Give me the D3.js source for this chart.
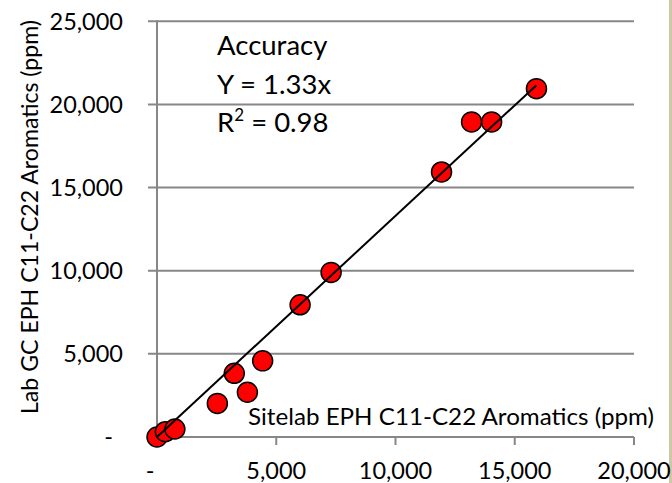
<!DOCTYPE html>
<html>
<head>
<meta charset="utf-8">
<script src="https://cdn.jsdelivr.net/npm/d3@7"></script>
<style>
  html, body { margin: 0; padding: 0; background: #ffffff; }
  svg { display: block; }
  text { font-family: Lato, "Open Sans", sans-serif; fill: #000; }
</style>
</head>
<body>
<svg id="chart" width="672" height="483"></svg>
<script>
// ---- data ----
const sitelabPpm = [0, 350, 750, 2530, 3240, 3790, 4430, 6000, 7300, 11930, 13190, 14030, 15910];
const labGcPpm   = [0, 320, 480, 2020, 3830, 2690, 4580, 7950, 9900, 15940, 18950, 18950, 20950];
const xTicks = [0, 5000, 10000, 15000, 20000];
const yTicks = [0, 5000, 10000, 15000, 20000, 25000];
const slope = 1.33;
const annotationLines = ["Accuracy", "Y = 1.33x"];
const r2Text = { base: "R", sup: "2", rest: " = 0.98" };
const xTitle = "Sitelab EPH C11-C22 Aromatics (ppm)";
const yTitle = "Lab GC EPH C11-C22 Aromatics (ppm)";

// ---- layout ----
const svg = d3.select("#chart");
const x = d3.scaleLinear().domain([0, 20000]).range([157, 634]);
const y = d3.scaleLinear().domain([0, 25000]).range([437, 21.3]);
const fmt = v => v === 0 ? "-" : d3.format(",")(v);
const gridColor = "#878787";

// right beige edge
svg.append("rect").attr("x", 669).attr("y", 0).attr("width", 3).attr("height", 483).attr("fill", "#cfc7a6");

// horizontal gridlines (with outward tick stubs)
svg.append("g").selectAll("line").data(yTicks.filter(d => d !== 0)).join("line")
  .attr("x1", 148).attr("x2", x(20000))
  .attr("y1", d => y(d)).attr("y2", d => y(d))
  .attr("stroke", gridColor).attr("stroke-width", 2);

// y axis line
svg.append("line").attr("x1", x(0)).attr("x2", x(0)).attr("y1", y(25000) - 1).attr("y2", y(0))
  .attr("stroke", gridColor).attr("stroke-width", 2);
// x axis line
svg.append("line").attr("x1", x(0)).attr("x2", x(20000)).attr("y1", y(0)).attr("y2", y(0))
  .attr("stroke", gridColor).attr("stroke-width", 2);
// x ticks
svg.append("g").selectAll("line").data(xTicks).join("line")
  .attr("x1", d => x(d)).attr("x2", d => x(d)).attr("y1", y(0)).attr("y2", y(0) + 8)
  .attr("stroke", gridColor).attr("stroke-width", 2);

// y tick labels
svg.append("g").selectAll("text").data(yTicks).join("text")
  .attr("x", d => d === 0 ? 113 : 123)
  .attr("y", d => y(d))
  .attr("dy", "0.35em")
  .attr("text-anchor", "end")
  .attr("font-size", 23.5)
  .text(fmt);

// x tick labels
svg.append("g").selectAll("text").data(xTicks).join("text")
  .attr("x", d => d === 0 ? 150 : x(d))
  .attr("y", 479)
  .attr("text-anchor", "middle")
  .attr("font-size", 23.5)
  .text(fmt);

// axis titles
svg.append("text")
  .attr("transform", `translate(38,${217}) rotate(-90)`)
  .attr("text-anchor", "middle")
  .attr("font-size", 24)
  .attr("textLength", 394)
  .attr("lengthAdjust", "spacingAndGlyphs")
  .text(yTitle);
svg.append("text")
  .attr("x", 248).attr("y", 425)
  .attr("font-size", 23)
  .attr("textLength", 406)
  .attr("lengthAdjust", "spacingAndGlyphs")
  .text(xTitle);

// points
svg.append("g").selectAll("circle").data(sitelabPpm.map((v, i) => [v, labGcPpm[i]])).join("circle")
  .attr("cx", d => x(d[0])).attr("cy", d => y(d[1])).attr("r", 10)
  .attr("fill", "#ff0000").attr("stroke", "#000").attr("stroke-width", 1.5);

// regression line
const xMax = d3.max(sitelabPpm);
svg.append("line")
  .attr("x1", x(0)).attr("y1", y(0))
  .attr("x2", x(xMax)).attr("y2", y(slope * xMax))
  .attr("stroke", "#000").attr("stroke-width", 2);

// annotation
const ann = svg.append("g");
annotationLines.forEach((t, i) => {
  ann.append("text").attr("x", 217).attr("y", 55 + i * 38.5).attr("font-size", 27.5).text(t);
});
const r2 = ann.append("text").attr("x", 217).attr("y", 131.7).attr("font-size", 27.5);
r2.append("tspan").text(r2Text.base);
r2.append("tspan").attr("font-size", 17).attr("dy", -11).text(r2Text.sup);
r2.append("tspan").attr("dy", 11).text(r2Text.rest);
</script>
</body>
</html>
